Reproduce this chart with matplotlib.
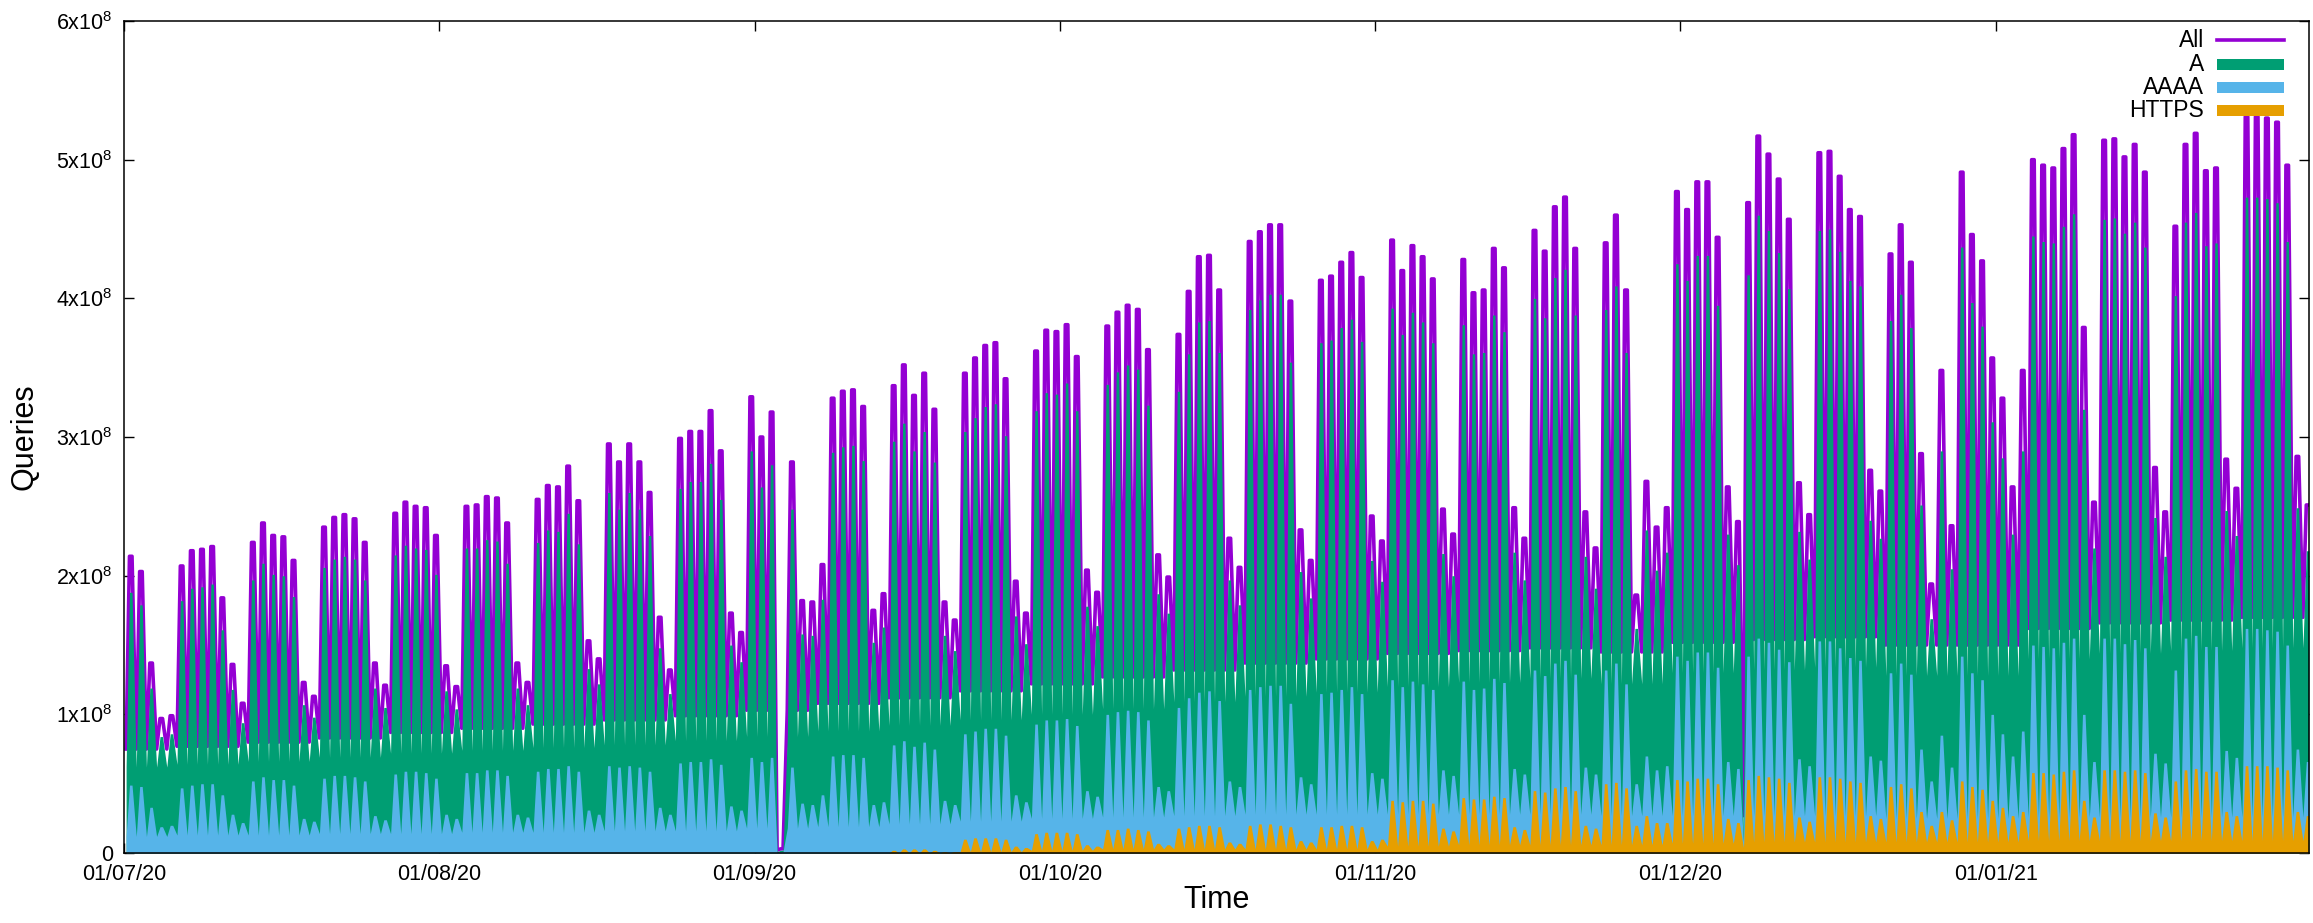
"""DNS query volume per record type, daily cycle, Jul 2020 - Jan 2021."""

import numpy as np
import pandas as pd
import matplotlib
matplotlib.use('Agg')  # Non-interactive backend
import matplotlib.pyplot as plt
import matplotlib.dates as mdates
from matplotlib.lines import Line2D
from matplotlib.patches import Rectangle

# ---------------------------------------------------------------------------
# Data (units of 1e8 queries). One daily peak per day, Jul 1 2020 .. Jan 31 2021
# ---------------------------------------------------------------------------
days = pd.date_range("2020-07-01", "2021-01-31", freq="D")

all_peak = [
    # Jul
    2.14, 2.03, 1.37, 0.97, 0.99, 2.07, 2.18, 2.19, 2.21, 1.84, 1.36, 1.08, 2.24, 2.38, 2.29, 2.28,
    2.11, 1.23, 1.13, 2.35, 2.42, 2.44, 2.41, 2.24, 1.37, 1.21, 2.45, 2.53, 2.50, 2.49, 2.29,
    # Aug
    1.35, 1.20, 2.50, 2.51, 2.57, 2.56, 2.38, 1.37, 1.23, 2.55, 2.65, 2.64, 2.79, 2.54, 1.53, 1.40,
    2.95, 2.82, 2.95, 2.82, 2.60, 1.70, 1.32, 2.99, 3.04, 3.04, 3.19, 2.90, 1.73, 1.59, 3.29,
    # Sep
    3.00, 3.18, 0.03, 2.82, 1.82, 1.81, 2.08, 3.28, 3.33, 3.34, 3.22, 1.75, 1.87, 3.37, 3.52,
    3.30, 3.46, 3.20, 1.81, 1.68, 3.46, 3.57, 3.66, 3.68, 3.42, 1.96, 1.73, 3.62, 3.77, 3.76,
    # Oct
    3.81, 3.58, 2.04, 1.88, 3.80, 3.90, 3.95, 3.92, 3.63, 2.15, 1.99, 3.74, 4.05, 4.30, 4.31, 4.06,
    2.27, 2.06, 4.41, 4.48, 4.53, 4.53, 3.98, 2.33, 2.11, 4.13, 4.16, 4.26, 4.33, 4.15, 2.43,
    # Nov
    2.25, 4.42, 4.20, 4.38, 4.30, 4.14, 2.48, 2.30, 4.28, 4.04, 4.06, 4.36, 4.22, 2.49, 2.27,
    4.49, 4.34, 4.66, 4.73, 4.36, 2.46, 2.20, 4.40, 4.60, 4.06, 1.86, 2.68, 2.35, 2.49, 4.77,
    # Dec
    4.64, 4.84, 4.84, 4.44, 2.64, 2.39, 4.69, 5.17, 5.04, 4.86, 4.57, 2.67, 2.44, 5.05, 5.06, 4.88,
    4.64, 4.59, 2.76, 2.61, 4.32, 4.53, 4.26, 2.88, 1.94, 3.48, 2.36, 4.91, 4.46, 4.27, 3.57,
    # Jan
    3.28, 2.64, 3.48, 5.00, 4.96, 4.94, 5.08, 5.18, 3.79, 2.53, 5.14, 5.15, 5.02, 5.11, 4.91, 2.78,
    2.46, 4.52, 5.11, 5.19, 4.92, 4.94, 2.84, 2.63, 5.31, 5.31, 5.30, 5.27, 4.96, 2.86, 2.51,
]

a_peak = [
    1.88, 1.79, 1.19, 0.84, 0.86, 1.82, 1.91, 1.92, 1.94, 1.61, 1.18, 0.94, 1.97, 2.09, 2.01, 2.00,
    1.85, 1.07, 0.98, 2.06, 2.12, 2.14, 2.12, 1.97, 1.19, 1.05, 2.15, 2.22, 2.20, 2.19, 2.01,
    1.17, 1.04, 2.20, 2.20, 2.26, 2.25, 2.09, 1.19, 1.07, 2.24, 2.33, 2.32, 2.45, 2.23, 1.33, 1.22,
    2.60, 2.48, 2.60, 2.48, 2.29, 1.48, 1.15, 2.63, 2.68, 2.68, 2.81, 2.55, 1.50, 1.38, 2.90,
    2.64, 2.80, 0.02, 2.48, 1.58, 1.57, 1.83, 2.89, 2.93, 2.94, 2.83, 1.52, 1.63, 2.97, 3.10,
    2.90, 3.04, 2.82, 1.57, 1.46, 3.04, 3.14, 3.22, 3.24, 3.01, 1.71, 1.51, 3.19, 3.32, 3.31,
    3.39, 3.19, 1.78, 1.64, 3.38, 3.47, 3.52, 3.49, 3.23, 1.87, 1.73, 3.33, 3.60, 3.83, 3.84, 3.61,
    1.97, 1.79, 3.92, 3.99, 4.03, 4.03, 3.54, 2.03, 1.84, 3.68, 3.70, 3.79, 3.85, 3.69, 2.11,
    1.96, 3.93, 3.74, 3.90, 3.83, 3.68, 2.16, 2.00, 3.81, 3.60, 3.61, 3.88, 3.76, 2.17, 1.97,
    4.00, 3.86, 4.15, 4.21, 3.88, 2.14, 1.91, 3.92, 4.09, 3.61, 1.62, 2.33, 2.04, 2.17, 4.25,
    4.13, 4.31, 4.31, 3.95, 2.30, 2.08, 4.17, 4.60, 4.49, 4.33, 4.07, 2.32, 2.12, 4.49, 4.50, 4.34,
    4.13, 4.09, 2.40, 2.27, 3.84, 4.03, 3.79, 2.51, 1.69, 2.90, 2.05, 4.37, 3.97, 3.80, 3.11,
    2.85, 2.30, 2.90, 4.45, 4.41, 4.40, 4.52, 4.61, 3.20, 2.20, 4.57, 4.58, 4.47, 4.55, 4.37, 2.42,
    2.14, 4.02, 4.55, 4.62, 4.38, 4.40, 2.47, 2.29, 4.73, 4.73, 4.72, 4.69, 4.41, 2.49, 2.18,
]

aaaa_peak = [
    0.49, 0.48, 0.33, 0.19, 0.20, 0.47, 0.49, 0.50, 0.50, 0.42, 0.28, 0.22, 0.52, 0.55, 0.53, 0.53,
    0.49, 0.25, 0.23, 0.54, 0.56, 0.56, 0.55, 0.52, 0.27, 0.24, 0.57, 0.59, 0.59, 0.58, 0.54,
    0.28, 0.25, 0.58, 0.58, 0.60, 0.60, 0.56, 0.28, 0.26, 0.59, 0.61, 0.61, 0.63, 0.59, 0.31, 0.28,
    0.63, 0.62, 0.63, 0.62, 0.59, 0.33, 0.28, 0.65, 0.66, 0.66, 0.68, 0.64, 0.34, 0.31, 0.69,
    0.66, 0.69, 0.01, 0.62, 0.36, 0.35, 0.42, 0.70, 0.71, 0.71, 0.69, 0.35, 0.37, 0.78, 0.81,
    0.77, 0.80, 0.75, 0.38, 0.35, 0.86, 0.88, 0.90, 0.90, 0.85, 0.42, 0.37, 0.93, 0.96, 0.96,
    0.97, 0.92, 0.45, 0.41, 1.00, 1.02, 1.03, 1.02, 0.96, 0.48, 0.45, 1.05, 1.12, 1.16, 1.17, 1.10,
    0.52, 0.48, 1.18, 1.20, 1.21, 1.21, 1.08, 0.55, 0.50, 1.15, 1.16, 1.18, 1.20, 1.15, 0.58,
    0.54, 1.25, 1.20, 1.24, 1.22, 1.18, 0.60, 0.56, 1.24, 1.18, 1.19, 1.26, 1.23, 0.61, 0.57,
    1.32, 1.28, 1.37, 1.39, 1.29, 0.62, 0.57, 1.32, 1.37, 1.22, 0.50, 0.70, 0.60, 0.63, 1.42,
    1.39, 1.45, 1.45, 1.34, 0.66, 0.61, 1.42, 1.55, 1.52, 1.47, 1.38, 0.68, 0.63, 1.53, 1.53, 1.48,
    1.41, 1.39, 0.70, 0.67, 1.30, 1.37, 1.29, 0.75, 0.52, 0.85, 0.62, 1.42, 1.30, 1.25, 1.00,
    0.86, 0.70, 0.88, 1.50, 1.49, 1.48, 1.52, 1.55, 1.00, 0.66, 1.55, 1.55, 1.51, 1.54, 1.48, 0.72,
    0.65, 1.32, 1.55, 1.57, 1.49, 1.49, 0.74, 0.69, 1.62, 1.62, 1.61, 1.60, 1.50, 0.75, 0.66,
]

https_peak = [
    # Jul, Aug: not yet deployed
    *[0.0] * 31,
    *[0.0] * 31,
    # Sep
    *[0.0] * 13, 0.02, 0.03, 0.03, 0.03, 0.02, 0.01, 0.01, 0.10, 0.11, 0.11, 0.11, 0.10, 0.05, 0.04,
    0.14, 0.15, 0.15,
    # Oct
    0.15, 0.14, 0.06, 0.05, 0.17, 0.17, 0.18, 0.17, 0.16, 0.07, 0.06, 0.18, 0.19, 0.20, 0.20, 0.19,
    0.08, 0.07, 0.20, 0.21, 0.21, 0.20, 0.19, 0.09, 0.08, 0.19, 0.19, 0.20, 0.20, 0.19, 0.09,
    # Nov
    0.10, 0.38, 0.37, 0.38, 0.38, 0.36, 0.18, 0.16, 0.40, 0.39, 0.39, 0.41, 0.40, 0.19, 0.17,
    0.45, 0.44, 0.47, 0.48, 0.45, 0.20, 0.18, 0.50, 0.51, 0.47, 0.20, 0.27, 0.22, 0.22, 0.53,
    # Dec
    0.52, 0.54, 0.54, 0.50, 0.25, 0.22, 0.53, 0.56, 0.55, 0.54, 0.51, 0.26, 0.23, 0.55, 0.55, 0.54,
    0.52, 0.51, 0.27, 0.25, 0.48, 0.50, 0.47, 0.30, 0.20, 0.30, 0.24, 0.52, 0.48, 0.46, 0.38,
    # Jan
    0.33, 0.27, 0.30, 0.58, 0.58, 0.57, 0.59, 0.60, 0.38, 0.26, 0.60, 0.60, 0.59, 0.60, 0.58, 0.29,
    0.26, 0.52, 0.60, 0.61, 0.59, 0.59, 0.30, 0.27, 0.63, 0.63, 0.63, 0.62, 0.60, 0.30, 0.27,
]

# Night-time minimum, one value per week (weeks start Monday 29 Jun 2020)
all_trough = [0.75, 0.77, 0.80, 0.83, 0.87, 0.90, 0.93, 0.96, 0.99, 1.03, 1.08, 1.12, 1.17, 1.22,
              1.27, 1.32, 1.37, 1.40, 1.44, 1.46, 1.48, 1.45, 1.52, 1.54, 1.56, 1.50, 1.50, 1.62,
              1.66, 1.68, 1.70]
a_trough = [0.62, 0.64, 0.66, 0.69, 0.72, 0.74, 0.76, 0.78, 0.81, 0.84, 0.88, 0.92, 0.96, 1.00,
            1.04, 1.09, 1.13, 1.16, 1.20, 1.23, 1.26, 1.22, 1.30, 1.32, 1.34, 1.28, 1.28, 1.40,
            1.44, 1.46, 1.48]
aaaa_trough = [0.12, 0.13, 0.13, 0.14, 0.14, 0.15, 0.15, 0.16, 0.16, 0.18, 0.19, 0.21, 0.23, 0.25,
               0.26, 0.27, 0.28, 0.28, 0.28, 0.28, 0.28, 0.27, 0.27, 0.27, 0.27, 0.25, 0.25, 0.26,
               0.26, 0.26, 0.26]
https_trough = [0.0] * 11 + [0.0, 0.01, 0.02, 0.03, 0.03, 0.03, 0.03, 0.05, 0.06, 0.06, 0.06,
                             0.07, 0.08, 0.08, 0.08, 0.08, 0.09, 0.09, 0.09, 0.09]

# Outages: night minimum on these days (All, A, AAAA, HTTPS)
outages = {
    "2020-09-03": (0.02, 0.01, 0.005, 0.0),
    "2020-12-07": (0.27, 0.12, 0.08, 0.04),
}

COLORS = {'All': '#9400D3', 'A': '#009E73', 'AAAA': '#56B4E9', 'HTTPS': '#E69F00'}

# hours of the day used for the night minimum and the start/end of the peak
TROUGH_H, PEAK_START_H, PEAK_END_H = 5, 13, 19


def daily_cycle(peak, trough_weekly, col):
    """Night minimum followed by the daily peak, three samples per day."""
    trough = np.repeat(trough_weekly, 7)[2:2 + len(days)].astype(float)
    for day, vals in outages.items():
        trough[days.get_loc(pd.Timestamp(day))] = vals[col]
    peak = np.asarray(peak, dtype=float)
    trough = np.minimum(trough, peak)
    out = np.empty(3 * len(days))
    out[0::3] = trough
    out[1::3] = peak
    out[2::3] = peak
    return out


t = np.empty(3 * len(days), dtype='datetime64[ns]')
t[0::3] = (days + pd.Timedelta(hours=TROUGH_H)).values
t[1::3] = (days + pd.Timedelta(hours=PEAK_START_H)).values
t[2::3] = (days + pd.Timedelta(hours=PEAK_END_H)).values

s_all = daily_cycle(all_peak, all_trough, 0)
s_a = daily_cycle(a_peak, a_trough, 1)
s_aaaa = daily_cycle(aaaa_peak, aaaa_trough, 2)
s_https = daily_cycle(https_peak, https_trough, 3)

# ---------------------------------------------------------------------------
# Plot
# ---------------------------------------------------------------------------
plt.rcParams['font.family'] = ['Liberation Sans', 'DejaVu Sans']
plt.rcParams['mathtext.default'] = 'regular'

fig = plt.figure(figsize=(23.13, 9.23), dpi=100)
ax = fig.add_axes([0.0536, 0.0758, 0.9446, 0.9014])

ax.plot(t, s_all, color=COLORS['All'], linewidth=2.6, zorder=2)
ax.fill_between(t, 0, s_a, color=COLORS['A'], linewidth=0, zorder=3)
ax.fill_between(t, 0, s_aaaa, color=COLORS['AAAA'], linewidth=0, zorder=4)
ax.fill_between(t, 0, s_https, color=COLORS['HTTPS'], linewidth=0, zorder=5)

ax.set_xlim(np.datetime64('2020-07-01T00:00'), t[-1])
ax.set_ylim(0, 6)

ax.xaxis.set_major_locator(mdates.MonthLocator())
ax.xaxis.set_major_formatter(mdates.DateFormatter('%d/%m/%y'))
ax.set_yticks(range(7))
ax.set_yticklabels(['0'] + [f'{i}x10$^{{8}}$' for i in range(1, 7)])

ax.tick_params(direction='in', length=7.2, width=1, labelsize=15.5,
               top=True, right=True, pad=8)
for spine in ax.spines.values():
    spine.set_linewidth(1.1)
    spine.set_zorder(10)

ax.set_xlabel('Time', fontsize=22, labelpad=0)
ax.set_ylabel('Queries', fontsize=22, labelpad=12)

# Gnuplot-style key: right-aligned labels, sample to the right
key_rows = [('All', 0.977), ('A', 0.948), ('AAAA', 0.920), ('HTTPS', 0.893)]
for name, y in key_rows:
    ax.text(0.952, y, name, transform=ax.transAxes, ha='right', va='center',
            fontsize=16.5, zorder=20)
    if name == 'All':
        ax.add_line(Line2D([0.958, 0.9886], [y, y], transform=ax.transAxes,
                           color=COLORS[name], linewidth=2.6, zorder=20))
    else:
        ax.add_patch(Rectangle((0.958, y - 0.0066), 0.0306, 0.0132,
                               transform=ax.transAxes, facecolor=COLORS[name],
                               edgecolor='none', zorder=20))

fig.savefig('out.png', dpi=100)
plt.close(fig)
